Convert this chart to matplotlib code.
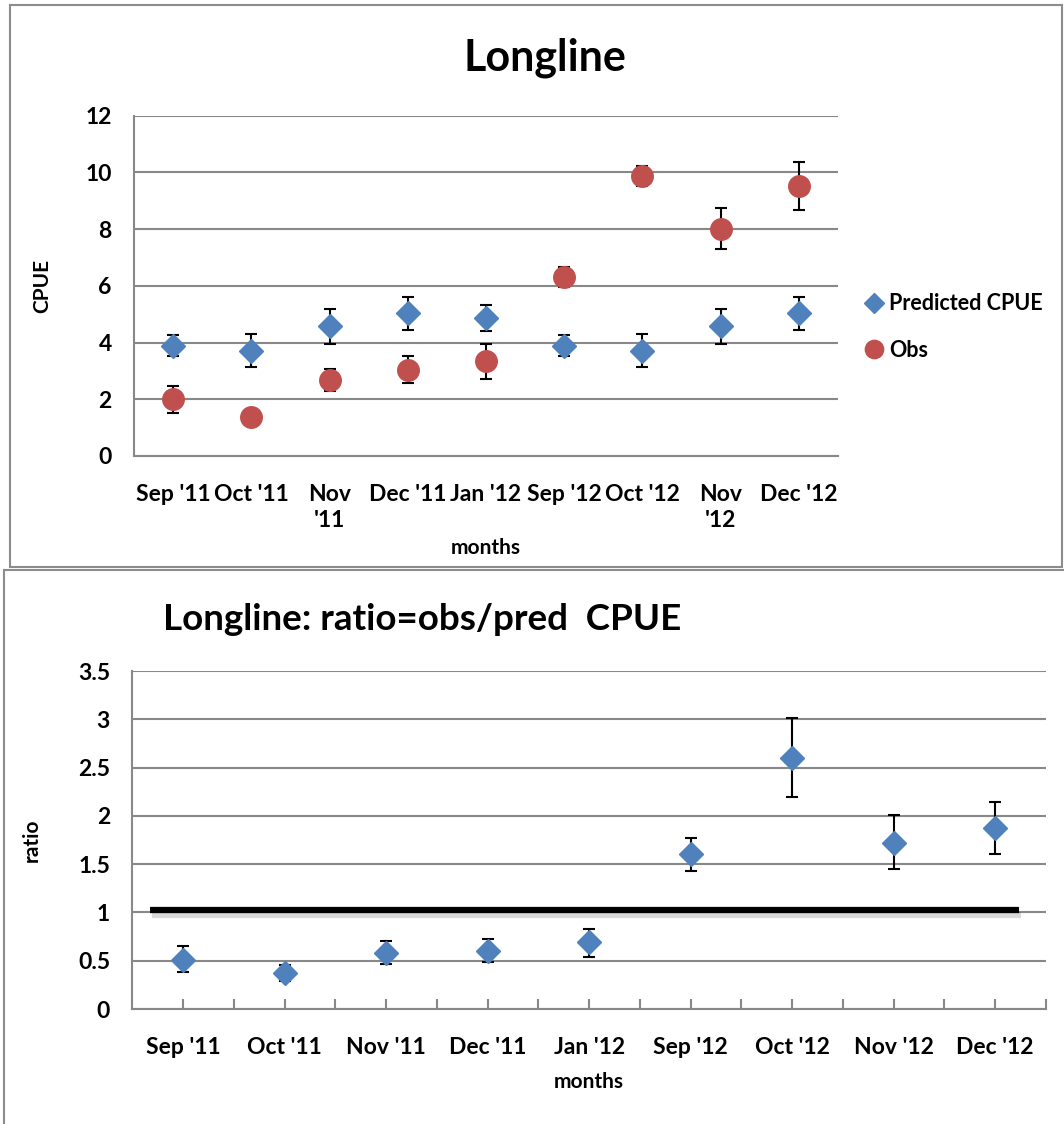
import matplotlib.pyplot as plt
import matplotlib.patheffects as pe
from matplotlib.patches import Rectangle

plt.rcParams['font.family'] = ['Lato', 'DejaVu Sans']
plt.rcParams['font.weight'] = 'bold'
plt.rcParams['axes.labelweight'] = 'bold'

months = ["Sep '11", "Oct '11", "Nov\n'11", "Dec '11", "Jan '12",
          "Sep '12", "Oct '12", "Nov\n'12", "Dec '12"]
months_flat = ["Sep '11", "Oct '11", "Nov '11", "Dec '11", "Jan '12",
               "Sep '12", "Oct '12", "Nov '12", "Dec '12"]

pred_cpue = [3.88, 3.71, 4.58, 5.03, 4.87, 3.88, 3.71, 4.58, 5.03]
pred_err = [0.37, 0.58, 0.62, 0.58, 0.45, 0.37, 0.58, 0.62, 0.58]
obs_cpue = [2.00, 1.36, 2.68, 3.05, 3.34, 6.30, 9.87, 8.02, 9.52]
obs_err = [0.47, 0.25, 0.40, 0.47, 0.61, 0.35, 0.35, 0.72, 0.83]

ratio = [0.51, 0.37, 0.58, 0.60, 0.69, 1.60, 2.60, 1.72, 1.87]
ratio_lo = [0.38, 0.29, 0.47, 0.49, 0.54, 1.43, 2.20, 1.45, 1.61]
ratio_hi = [0.65, 0.46, 0.70, 0.72, 0.83, 1.77, 3.01, 2.01, 2.14]

ref_x = [-0.33, 8.23]
ref_y = [1.02, 1.02]

W, H = 1064, 1124
fig = plt.figure(figsize=(W / 100, H / 100), dpi=100)

def fx(px):
    return px / W

def fy(py):
    return 1 - py / H

# panel borders
fig.patches.append(Rectangle((fx(10), fy(567)), fx(1062 - 10), fy(5) - fy(567),
                             transform=fig.transFigure, fill=False, ec='#8c8c8c', lw=1.5))
fig.patches.append(Rectangle((fx(4), fy(1130)), fx(1070 - 4), fy(570) - fy(1130),
                             transform=fig.transFigure, fill=False, ec='#8c8c8c', lw=1.5))

blue = '#4F81BD'
red = '#C0504D'
grid_c = '#888888'
x = list(range(len(months)))
fs = 16.5

# ---- top chart
ax1 = fig.add_axes([fx(134), fy(456), fx(838 - 134), fy(115.7) - fy(456)])
ax1.errorbar(x, pred_cpue, yerr=pred_err, fmt='D', color=blue, ms=12, ecolor='black',
             elinewidth=1.5, capsize=4, capthick=1.5, label='Predicted CPUE', zorder=3)
ax1.errorbar(x, obs_cpue, yerr=obs_err, fmt='o', color=red, ms=15.5, ecolor='black',
             elinewidth=1.5, capsize=4, capthick=1.5, label='Obs', zorder=3)
ax1.set_xlim(-0.5, 8.5)
ax1.set_ylim(0, 12)
ax1.set_yticks(range(0, 13, 2))
ax1.set_xticks(x)
ax1.set_xticklabels(months, fontsize=fs, linespacing=1.3, va='top')
ax1.tick_params(axis='x', length=0, pad=20)
ax1.tick_params(axis='y', length=0, pad=16, labelsize=fs)
ax1.grid(axis='y', color=grid_c, lw=1.5)
ax1.set_axisbelow(True)
for s in ['top', 'right']:
    ax1.spines[s].set_visible(False)
for s in ['left', 'bottom']:
    ax1.spines[s].set_color(grid_c)
    ax1.spines[s].set_linewidth(1.5)
ax1.set_ylabel('CPUE', fontsize=15, labelpad=24)
ax1.set_xlabel('months', fontsize=15, labelpad=5)
leg = ax1.legend(handles=[ax1.containers[0][0], ax1.containers[1][0]],
                 labels=['Predicted CPUE', 'Obs'], loc='center left',
                 bbox_to_anchor=(fx(842), fy(327)), bbox_transform=fig.transFigure,
                 frameon=False, fontsize=15.5, labelspacing=1.2, handletextpad=0.1,
                 handlelength=1.2, markerscale=0.85)
fig.text(fx(545), fy(58), 'Longline', fontsize=31, ha='center', va='center')

# ---- bottom chart
ax2 = fig.add_axes([fx(132.3), fy(1009), fx(1046 - 132.3), fy(671) - fy(1009)])
yerr = [[r - lo for r, lo in zip(ratio, ratio_lo)], [hi - r for r, hi in zip(ratio, ratio_hi)]]
line, = ax2.plot(ref_x, ref_y, color='black', lw=4.5, solid_capstyle='butt', zorder=2,
                 path_effects=[pe.SimpleLineShadow(offset=(1.5, -3), alpha=0.15, shadow_color='black'),
                               pe.Normal()])
ax2.errorbar(x, ratio, yerr=yerr, fmt='D', color=blue, ms=12, ecolor='black',
             elinewidth=1.5, capsize=4, capthick=1.5, zorder=3)
ax2.set_xlim(-0.5, 8.5)
ax2.set_ylim(0, 3.5)
ax2.set_yticks([0, 0.5, 1, 1.5, 2, 2.5, 3, 3.5])
ax2.set_yticklabels(['0', '0.5', '1', '1.5', '2', '2.5', '3', '3.5'])
ax2.set_xticks(x)
ax2.set_xticks([i + 0.5 for i in x], minor=True)
ax2.set_xticklabels(months_flat, fontsize=fs)
ax2.tick_params(axis='x', which='both', direction='in', length=7, width=1.5, color=grid_c, pad=20)
ax2.tick_params(axis='y', length=0, pad=16, labelsize=fs)
ax2.grid(axis='y', color=grid_c, lw=1.5)
ax2.set_axisbelow(True)
for s in ['top', 'right']:
    ax2.spines[s].set_visible(False)
for s in ['left', 'bottom']:
    ax2.spines[s].set_color(grid_c)
    ax2.spines[s].set_linewidth(1.5)
ax2.set_ylabel('ratio', fontsize=15, labelpad=26)
ax2.set_xlabel('months', fontsize=15, labelpad=10)
fig.text(fx(163), fy(620), 'Longline: ratio=obs/pred  CPUE', fontsize=26.5, ha='left', va='center')

fig.savefig('out.png', dpi=100)
